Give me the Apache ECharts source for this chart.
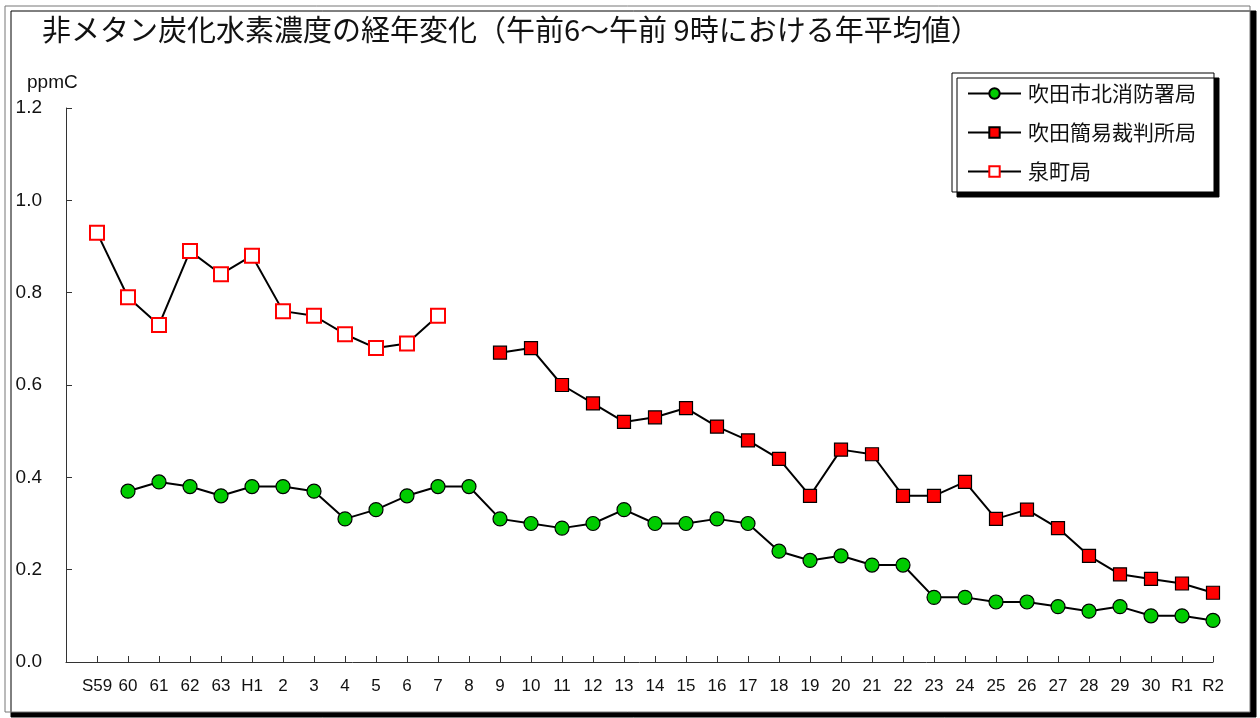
<!DOCTYPE html>
<html>
<head>
<meta charset="utf-8">
<script src="https://cdn.jsdelivr.net/npm/echarts@6/dist/echarts.min.js"></script>
<style>
html,body{margin:0;padding:0;background:#fff;}
#main{width:1260px;height:718px;}
</style>
</head>
<body>
<div id="main"></div>
<script>
// 年度（S59〜R2）
var years = ['S59','60','61','62','63','H1','2','3','4','5','6','7','8','9','10','11','12','13','14','15','16','17','18','19','20','21','22','23','24','25','26','27','28','29','30','R1','R2'];
// 吹田市北消防署局（60〜R2）
var kitaShobo = [null,0.37,0.39,0.38,0.36,0.38,0.38,0.37,0.31,0.33,0.36,0.38,0.38,0.31,0.30,0.29,0.30,0.33,0.30,0.30,0.31,0.30,0.24,0.22,0.23,0.21,0.21,0.14,0.14,0.13,0.13,0.12,0.11,0.12,0.10,0.10,0.09];
// 吹田簡易裁判所局（9〜R2）
var kanisai = [null,null,null,null,null,null,null,null,null,null,null,null,null,0.67,0.68,0.60,0.56,0.52,0.53,0.55,0.51,0.48,0.44,0.36,0.46,0.45,0.36,0.36,0.39,0.31,0.33,0.29,0.23,0.19,0.18,0.17,0.15];
// 泉町局（S59〜7）
var izumicho = [0.93,0.79,0.73,0.89,0.84,0.88,0.76,0.75,0.71,0.68,0.69,0.75];

var font = '"Noto Sans CJK JP", "Liberation Sans", sans-serif';

// 先頭に空カテゴリを置いてS59を軸から1目盛り離す
function pad(arr, v){ return [v].concat(arr); }

var chart = echarts.init(document.getElementById('main'));
var option = {
	backgroundColor: '#fff',
	animation: false,
	textStyle: {fontFamily: font},
	graphic: [{
		type: 'rect',
		z: -1,
		shape: {x: 5, y: 6, width: 1245, height: 706},
		style: {fill: '#fff', stroke: '#777', lineWidth: 1,
			shadowColor: '#000', shadowOffsetX: 6, shadowOffsetY: 5, shadowBlur: 0}
	}, {
		type: 'text',
		left: 42, top: 15,
		style: {text: '非メタン炭化水素濃度の経年変化（午前6～午前 9時における年平均値）',
			font: '29px ' + font, fill: '#111'}
	}, {
		type: 'text',
		left: 27, top: 73,
		style: {text: 'ppmC', font: '19px "Liberation Sans", Arial, sans-serif', fill: '#111'}
	}],
	legend: {
		orient: 'vertical',
		left: 952, top: 73,
		padding: [10, 18, 10, 15],
		itemGap: 18,
		itemWidth: 53,
		itemHeight: 13,
		backgroundColor: '#fff',
		borderColor: '#000',
		borderWidth: 1,
		shadowColor: '#000',
		shadowOffsetX: 5,
		shadowOffsetY: 5,
		shadowBlur: 0,
		textStyle: {fontSize: 21, color: '#111', fontFamily: font, padding: [0, 0, 0, 2]},
		data: ['吹田市北消防署局', '吹田簡易裁判所局', '泉町局']
	},
	grid: {left: 66, top: 108, right: 47, bottom: 56},
	xAxis: {
		type: 'category',
		boundaryGap: false,
		data: pad(years, ''),
		axisLine: {lineStyle: {color: '#333', width: 1}},
		axisTick: {inside: true, length: 6, lineStyle: {color: '#333'}},
		axisLabel: {interval: 0, color: '#111', fontSize: 17, margin: 16,
			fontFamily: '"Liberation Sans Narrow", "Liberation Sans", sans-serif'},
		splitLine: {show: false}
	},
	yAxis: {
		type: 'value',
		min: 0, max: 1.2, interval: 0.2,
		axisLine: {show: true, lineStyle: {color: '#333', width: 1}},
		axisTick: {show: true, inside: true, length: 6, lineStyle: {color: '#333'}},
		axisLabel: {color: '#111', fontSize: 19, margin: 24,
			fontFamily: '"Liberation Sans Narrow", "Liberation Sans", sans-serif',
			formatter: function(v){ return v.toFixed(1); }},
		splitLine: {show: false}
	},
	series: [{
		name: '吹田市北消防署局',
		type: 'line',
		data: pad(kitaShobo, null),
		symbol: 'circle',
		symbolSize: 14,
		lineStyle: {color: '#000', width: 2},
		itemStyle: {color: '#00cc00', borderColor: '#000', borderWidth: 1.2},
		z: 3
	}, {
		name: '吹田簡易裁判所局',
		type: 'line',
		data: pad(kanisai, null),
		symbol: 'rect',
		symbolSize: 13,
		lineStyle: {color: '#000', width: 2},
		itemStyle: {color: '#ff0000', borderColor: '#000', borderWidth: 1.2},
		z: 3
	}, {
		name: '泉町局',
		type: 'line',
		data: pad(izumicho, null),
		symbol: 'rect',
		symbolSize: 14,
		lineStyle: {color: '#000', width: 2},
		itemStyle: {color: '#fff', borderColor: '#ff0000', borderWidth: 2},
		z: 3
	}]
};
chart.setOption(option);
</script>
</body>
</html>
